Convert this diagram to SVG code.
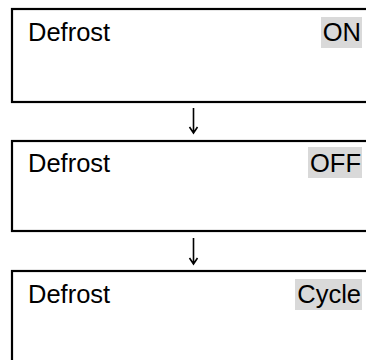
<svg xmlns="http://www.w3.org/2000/svg" width="366" height="360" viewBox="0 0 366 360">
<defs>
<style>
.box{fill:#fff;stroke:#000;stroke-width:2.2}
.lbl{font-family:"Liberation Sans",Arial,sans-serif;font-size:25.5px;fill:#000}
.val{font-family:"Liberation Sans",Arial,sans-serif;font-size:25.5px;fill:#000;text-anchor:end}
.hl{fill:#d9d9d9}
.conn{stroke:#000;stroke-width:1.6;fill:none}
</style>
</defs>
<rect width="366" height="360" fill="#fff"/>
<g id="node-on">
<rect class="box" x="12" y="9" width="400" height="93"/>
<text class="lbl" x="28" y="41">Defrost</text>
<rect class="hl" x="321" y="17" width="41" height="31"/>
<text class="val" x="361" y="41">ON</text>
</g>
<g id="node-off">
<rect class="box" x="12" y="141" width="400" height="90"/>
<text class="lbl" x="28" y="172">Defrost</text>
<rect class="hl" x="308" y="147" width="54" height="31"/>
<text class="val" x="361" y="172">OFF</text>
</g>
<g id="node-cycle">
<rect class="box" x="12" y="271" width="400" height="150"/>
<text class="lbl" x="28" y="303">Defrost</text>
<rect class="hl" x="295" y="279" width="67" height="31"/>
<text class="val" x="361" y="303">Cycle</text>
</g>
<g id="connectors">
<path class="conn" d="M193.5 108 V133 M189.5 127 L193.5 133 L197.5 127"/>
<path class="conn" d="M193.5 238 V264 M189.5 258 L193.5 264 L197.5 258"/>
</g>
</svg>
